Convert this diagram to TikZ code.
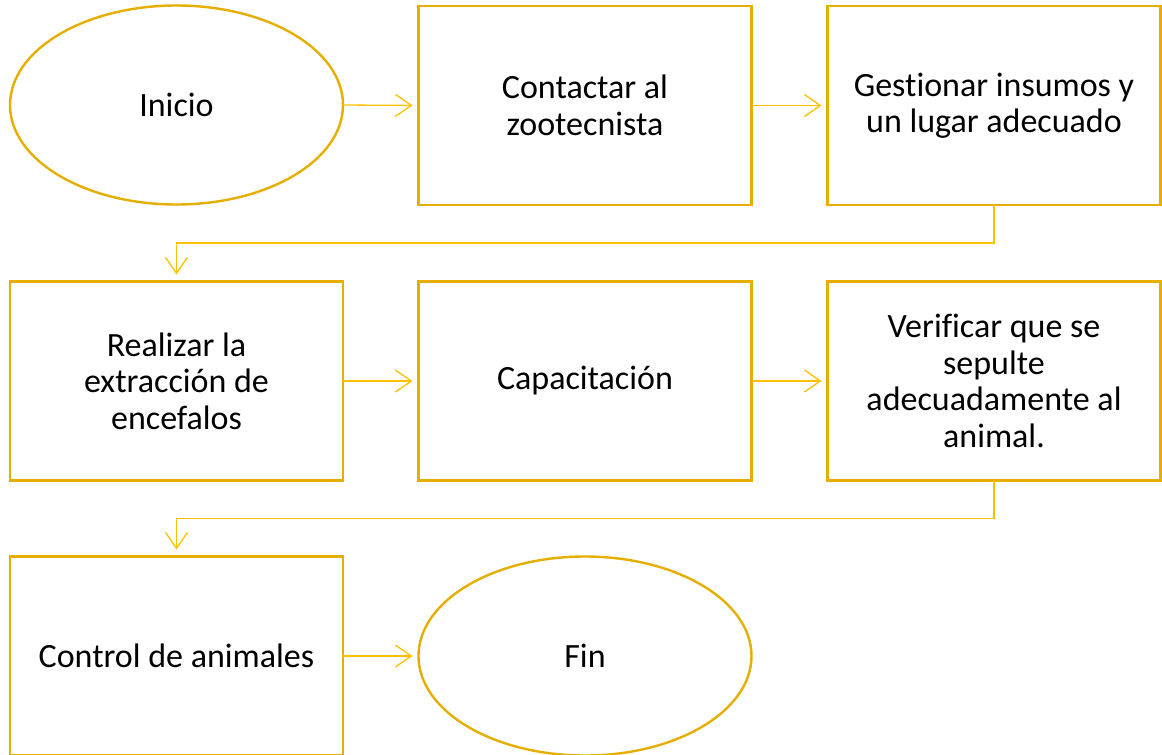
\documentclass[tikz,border=0pt]{standalone}
\usepackage{fontspec}
\setmainfont[Ligatures=NoCommon]{Carlito}
\usetikzlibrary{arrows.meta,shapes.geometric}
\definecolor{shapegold}{RGB}{229,174,0}
\definecolor{linegold}{RGB}{255,192,0}
\tikzset{
  x=1pt,y=-1pt,
  procbox/.style={draw=shapegold,line width=2.4pt,rectangle,minimum width=333pt,minimum height=199pt,inner sep=0pt,outer sep=0pt,align=center,font=\fontsize{34}{36.5}\selectfont},
  termell/.style={draw=shapegold,line width=2.4pt,ellipse,minimum width=333pt,minimum height=199pt,inner sep=0pt,outer sep=0pt,align=center,font=\fontsize{34}{36.5}\selectfont},
  conn/.style={draw=linegold,line width=1.3pt,-{Straight Barb[length=16pt,width=22pt,line width=1.3pt]},shorten >=6pt}
}
\begin{document}
\begin{tikzpicture}
\useasboundingbox (0,0) rectangle (1162,755);
\node[termell] (inicio) at (176.5,105) {Inicio};
\node[procbox] (contactar) at (585,105.5) {Contactar al\\zootecnista};
\node[procbox] (gestionar) at (994,105.5) {Gestionar insumos y\\un lugar adecuado};
\node[procbox] (realizar) at (176.5,381) {Realizar la\\extracción de\\encefalos};
\node[procbox] (capacitacion) at (585,381) {Capacitación};
\node[procbox] (verificar) at (994,381) {Verificar que se\\sepulte\\adecuadamente al\\animal.};
\node[procbox] (control) at (176.5,656) {Control de animales};
\node[termell] (fin) at (585,656) {Fin};
\draw[conn] (inicio.east) -- (contactar.west);
\draw[conn] (contactar.east) -- (gestionar.west);
\draw[conn,shorten >=7pt] (gestionar.south) -- ++(0,38) -| (realizar.north);
\draw[conn] (realizar.east) -- (capacitacion.west);
\draw[conn] (capacitacion.east) -- (verificar.west);
\draw[conn,shorten >=7pt] (verificar.south) -- ++(0,38) -| (control.north);
\draw[conn] (control.east) -- (fin.west);
\end{tikzpicture}
\end{document}
